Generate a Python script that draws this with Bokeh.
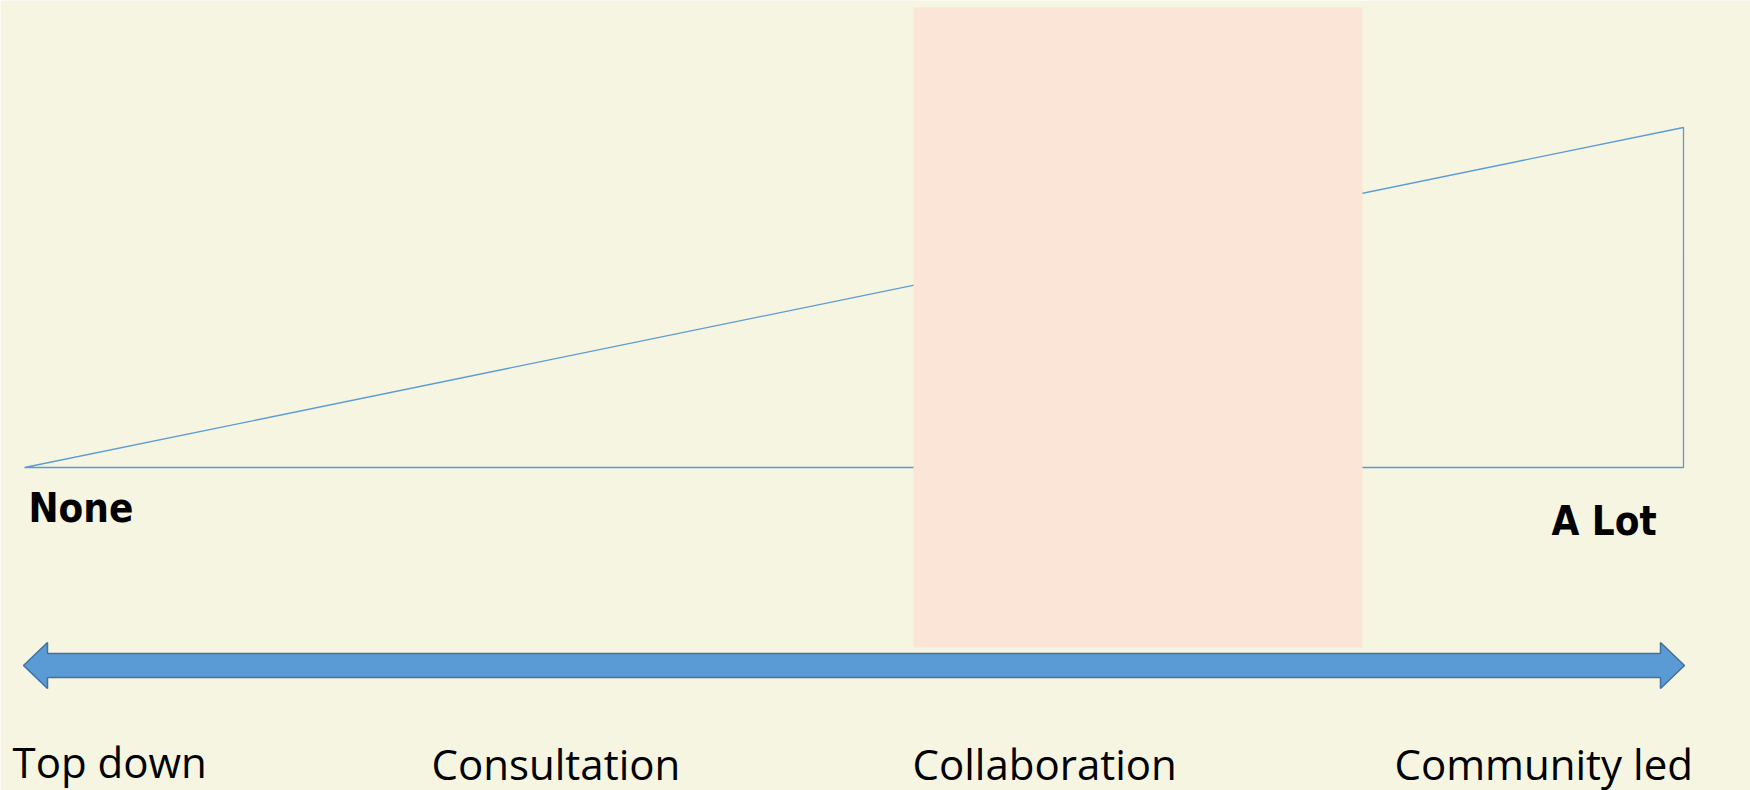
from bokeh.plotting import figure
from bokeh.models import Range1d
from bokeh.core.properties import value
from bokeh.embed import file_html
from bokeh.resources import INLINE

# ---- data ----
stages = ["Top down", "Consultation", "Collaboration", "Community led"]
stage_x = [12, 431, 912, 1394]          # left edge of each stage label (page px)
stage_y = [761, 763, 763, 763]          # baselines
levels = ["None", "A Lot"]
level_x = [28, 1551]
level_y = [507, 520]

# participation wedge (x, y) in page px
wedge_x = [24, 1683, 1683]
wedge_y = [467, 127, 467]

# highlight band (Collaboration)
band_left, band_right, band_top, band_bottom = 913, 1362, 7, 647

# double-headed arrow geometry
arr_left, arr_right, arr_mid = 23, 1684, 665
head_len, head_half, shaft_half = 24, 23, 12

BG = "#F5F5E1"
W, H = 1750, 790

p = figure(width=W, height=H, output_backend="svg", toolbar_location=None,
           x_range=Range1d(0, W), y_range=Range1d(H, 0),
           min_border=0, background_fill_color=BG, border_fill_color=BG,
           outline_line_color=None)
p.axis.visible = False
p.grid.visible = False

p.patch(wedge_x, wedge_y, fill_color=None, line_color="#5B9BD5", line_width=1.3)

p.quad(left=[band_left], right=[band_right], top=[band_top], bottom=[band_bottom],
       fill_color="#FAE5D7", line_color=None)

ax = [arr_left, arr_left + head_len, arr_left + head_len, arr_right - head_len,
      arr_right - head_len, arr_right, arr_right - head_len, arr_right - head_len,
      arr_left + head_len, arr_left + head_len]
ay = [arr_mid, arr_mid - head_half, arr_mid - shaft_half, arr_mid - shaft_half,
      arr_mid - head_half, arr_mid, arr_mid + head_half, arr_mid + shaft_half,
      arr_mid + shaft_half, arr_mid + head_half]
p.patch(ax, ay, fill_color="#5B9BD5", line_color="#41719C", line_width=1.5)

p.text(x=level_x, y=level_y, text=levels,
       text_font=value("'DejaVu Sans Condensed', 'Liberation Sans Narrow', Roboto, sans-serif"),
       text_font_style="bold", text_font_size="40px", text_color="#000000",
       text_baseline="alphabetic", text_align="left")

p.text(x=stage_x, y=stage_y, text=stages, text_font=value("Open Sans"),
       text_font_size="42px", text_color="#000000",
       text_baseline="alphabetic", text_align="left")

html = file_html(p, INLINE)
html = html.replace("<body>", '<body style="margin:0;background-color:%s;overflow:hidden;">' % BG, 1)
open("out.html", "w").write(html)
